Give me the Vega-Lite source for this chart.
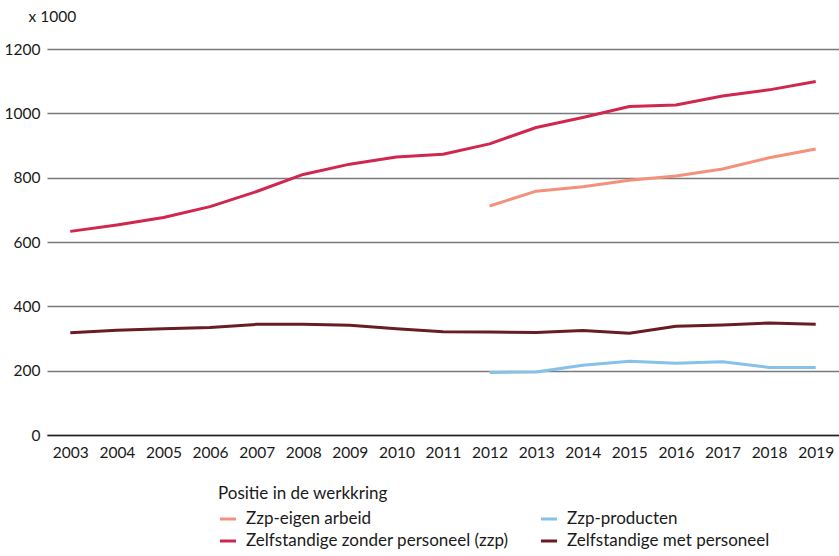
{
  "$schema": "https://vega.github.io/schema/vega-lite/v6.json",
  "autosize": {"type": "none"},
  "width": 792,
  "height": 386,
  "padding": {"left": 47, "top": 49, "right": 0, "bottom": 121},
  "background": "white",
  "config": {
    "font": "Lato",
    "view": {"stroke": null},
    "axis": {"labelFont": "Lato", "labelFontSize": 15.5, "labelColor": "#1a1a1a", "titleFont": "Lato"},
    "legend": {"labelFont": "Lato", "titleFont": "Lato"}
  },
  "data": {
    "values": [
      {"jaar": "2003", "positie": "Zelfstandige zonder personeel (zzp)", "aantal": 633},
      {"jaar": "2004", "positie": "Zelfstandige zonder personeel (zzp)", "aantal": 653},
      {"jaar": "2005", "positie": "Zelfstandige zonder personeel (zzp)", "aantal": 676},
      {"jaar": "2006", "positie": "Zelfstandige zonder personeel (zzp)", "aantal": 710},
      {"jaar": "2007", "positie": "Zelfstandige zonder personeel (zzp)", "aantal": 757},
      {"jaar": "2008", "positie": "Zelfstandige zonder personeel (zzp)", "aantal": 810},
      {"jaar": "2009", "positie": "Zelfstandige zonder personeel (zzp)", "aantal": 842},
      {"jaar": "2010", "positie": "Zelfstandige zonder personeel (zzp)", "aantal": 864},
      {"jaar": "2011", "positie": "Zelfstandige zonder personeel (zzp)", "aantal": 873},
      {"jaar": "2012", "positie": "Zelfstandige zonder personeel (zzp)", "aantal": 905},
      {"jaar": "2013", "positie": "Zelfstandige zonder personeel (zzp)", "aantal": 956},
      {"jaar": "2014", "positie": "Zelfstandige zonder personeel (zzp)", "aantal": 987},
      {"jaar": "2015", "positie": "Zelfstandige zonder personeel (zzp)", "aantal": 1021},
      {"jaar": "2016", "positie": "Zelfstandige zonder personeel (zzp)", "aantal": 1026},
      {"jaar": "2017", "positie": "Zelfstandige zonder personeel (zzp)", "aantal": 1054},
      {"jaar": "2018", "positie": "Zelfstandige zonder personeel (zzp)", "aantal": 1073},
      {"jaar": "2019", "positie": "Zelfstandige zonder personeel (zzp)", "aantal": 1099},
      {"jaar": "2012", "positie": "Zzp-eigen arbeid", "aantal": 712},
      {"jaar": "2013", "positie": "Zzp-eigen arbeid", "aantal": 758},
      {"jaar": "2014", "positie": "Zzp-eigen arbeid", "aantal": 772},
      {"jaar": "2015", "positie": "Zzp-eigen arbeid", "aantal": 792},
      {"jaar": "2016", "positie": "Zzp-eigen arbeid", "aantal": 805},
      {"jaar": "2017", "positie": "Zzp-eigen arbeid", "aantal": 827},
      {"jaar": "2018", "positie": "Zzp-eigen arbeid", "aantal": 862},
      {"jaar": "2019", "positie": "Zzp-eigen arbeid", "aantal": 889},
      {"jaar": "2012", "positie": "Zzp-producten", "aantal": 194},
      {"jaar": "2013", "positie": "Zzp-producten", "aantal": 196},
      {"jaar": "2014", "positie": "Zzp-producten", "aantal": 217},
      {"jaar": "2015", "positie": "Zzp-producten", "aantal": 229},
      {"jaar": "2016", "positie": "Zzp-producten", "aantal": 223},
      {"jaar": "2017", "positie": "Zzp-producten", "aantal": 228},
      {"jaar": "2018", "positie": "Zzp-producten", "aantal": 210},
      {"jaar": "2019", "positie": "Zzp-producten", "aantal": 210},
      {"jaar": "2003", "positie": "Zelfstandige met personeel", "aantal": 318},
      {"jaar": "2004", "positie": "Zelfstandige met personeel", "aantal": 326},
      {"jaar": "2005", "positie": "Zelfstandige met personeel", "aantal": 330},
      {"jaar": "2006", "positie": "Zelfstandige met personeel", "aantal": 334},
      {"jaar": "2007", "positie": "Zelfstandige met personeel", "aantal": 344},
      {"jaar": "2008", "positie": "Zelfstandige met personeel", "aantal": 344},
      {"jaar": "2009", "positie": "Zelfstandige met personeel", "aantal": 341},
      {"jaar": "2010", "positie": "Zelfstandige met personeel", "aantal": 330},
      {"jaar": "2011", "positie": "Zelfstandige met personeel", "aantal": 321},
      {"jaar": "2012", "positie": "Zelfstandige met personeel", "aantal": 320},
      {"jaar": "2013", "positie": "Zelfstandige met personeel", "aantal": 319},
      {"jaar": "2014", "positie": "Zelfstandige met personeel", "aantal": 325},
      {"jaar": "2015", "positie": "Zelfstandige met personeel", "aantal": 316},
      {"jaar": "2016", "positie": "Zelfstandige met personeel", "aantal": 338},
      {"jaar": "2017", "positie": "Zelfstandige met personeel", "aantal": 342},
      {"jaar": "2018", "positie": "Zelfstandige met personeel", "aantal": 348},
      {"jaar": "2019", "positie": "Zelfstandige met personeel", "aantal": 344}
    ]
  },
  "mark": {"type": "line", "strokeWidth": 3, "strokeCap": "butt", "strokeJoin": "round"},
  "encoding": {
    "x": {
      "field": "jaar", "type": "ordinal",
      "scale": {"type": "point", "padding": 0.5},
      "axis": {"title": null, "labelAngle": 0, "ticks": false, "domain": true, "domainColor": "#222222", "domainWidth": 1.5, "labelPadding": 10, "grid": false}
    },
    "y": {
      "field": "aantal", "type": "quantitative",
      "scale": {"domain": [0, 1200], "nice": false},
      "axis": {
        "values": [0, 200, 400, 600, 800, 1000, 1200],
        "format": "d",
        "domain": false, "ticks": false, "grid": true, "gridColor": "#7a7a7a", "gridWidth": 1.5,
        "labelPadding": 7,
        "title": "x 1000", "titleAngle": 0, "titleAlign": "left", "titleBaseline": "middle",
        "titleX": -19, "titleY": -33, "titleFontSize": 15.5, "titleFontWeight": "normal", "titleColor": "#1a1a1a"
      }
    },
    "color": {
      "field": "positie", "type": "nominal",
      "scale": {
        "domain": ["Zzp-eigen arbeid", "Zelfstandige zonder personeel (zzp)", "Zzp-producten", "Zelfstandige met personeel"],
        "range": ["#f4917c", "#d0274f", "#85c1e9", "#6a1c24"]
      },
      "legend": {
        "title": "Positie in de werkkring",
        "orient": "none", "legendX": 171, "legendY": 437,
        "columns": 2, "columnPadding": 25,
        "symbolType": "stroke", "symbolStrokeWidth": 3, "symbolSize": 260,
        "labelFontSize": 17, "titleFontSize": 17, "titleFontWeight": "normal", "titleColor": "#1a1a1a", "labelColor": "#1a1a1a",
        "rowPadding": 4, "titlePadding": 6, "labelLimit": 400, "labelOffset": 8
      }
    }
  }
}
